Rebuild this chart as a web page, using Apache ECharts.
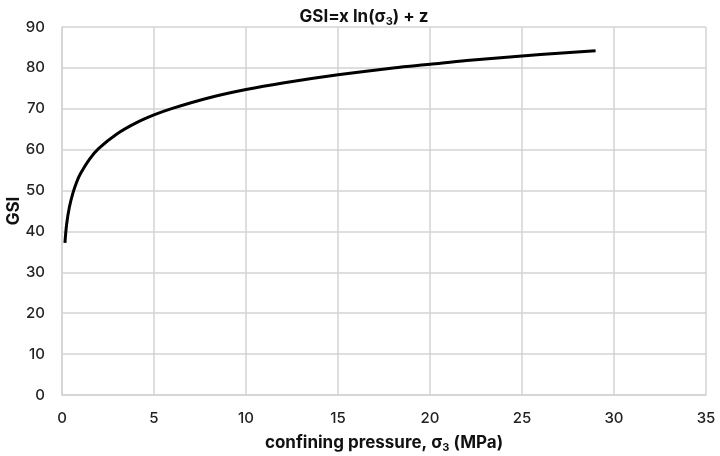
<!DOCTYPE html>
<html>
<head>
<meta charset="utf-8">
<script src="https://cdn.jsdelivr.net/npm/echarts@6/dist/echarts.min.js"></script>
<style>
  html, body { margin: 0; padding: 0; background: #fff; }
  #chart { width: 720px; height: 456px; }
</style>
</head>
<body>
<div id="chart"></div>
<script>
// values
const sigma3 = [0.16, 0.25, 0.4, 0.6, 0.8, 1, 1.5, 2, 3, 4, 5, 6, 8, 10, 12, 15, 18, 20, 22, 25, 27, 29];
const gsi = [37.2, 41.7, 45.9, 49.5, 52.1, 54.1, 57.7, 60.3, 63.9, 66.5, 68.5, 70.1, 72.7, 74.7, 76.3, 78.3, 80.0, 80.9, 81.8, 82.9, 83.6, 84.2];

const font = 'Inter, "Liberation Sans", sans-serif';
const gridColor = '#d3d3d3';

let myChart = echarts.init(document.getElementById('chart'));
const option = {
  animation: false,
  title: {
    text: '{b|GSI=x ln(σ}{s|3}{b|) + z}',
    left: 359,
    textAlign: 'center',
    top: 2,
    textStyle: {
      fontFamily: font, fontWeight: 'bold', fontSize: 17, color: '#111',
      rich: {
        b: { fontFamily: font, fontWeight: 'bold', fontSize: 17, color: '#111' },
        s: { fontFamily: font, fontWeight: 'bold', fontSize: 11, color: '#111', padding: [9, 0, 0, 0] }
      }
    }
  },
  grid: { left: 62, right: 14, top: 27, bottom: 61, outerBoundsMode: 'none' },
  xAxis: {
    type: 'value',
    min: 0, max: 35, interval: 5,
    name: '{b|confining pressure, σ}{s|3}{b| (MPa)}',
    nameLocation: 'middle',
    nameGap: 37,
    nameMoveOverlap: false,
    nameTextStyle: {
      fontFamily: font, fontWeight: 'bold', fontSize: 17, color: '#111',
      rich: {
        b: { fontFamily: font, fontWeight: 'bold', fontSize: 17, color: '#111' },
        s: { fontFamily: font, fontWeight: 'bold', fontSize: 11, color: '#111', padding: [10, 0, 0, 0] }
      }
    },
    axisLine: { show: true, lineStyle: { color: gridColor, width: 1.5 } },
    axisTick: { show: false },
    axisLabel: { fontFamily: font, fontSize: 15, fontWeight: 500, color: '#222', margin: 16 },
    splitLine: { show: true, lineStyle: { color: gridColor, width: 1.5 } }
  },
  yAxis: {
    type: 'value',
    min: 0, max: 90, interval: 10,
    name: 'GSI',
    nameLocation: 'middle',
    nameGap: 40,
    nameMoveOverlap: false,
    nameRotate: 90,
    nameTextStyle: { fontFamily: font, fontWeight: 'bold', fontSize: 17, color: '#111' },
    axisLine: { show: true, lineStyle: { color: gridColor, width: 1.5 } },
    axisTick: { show: false },
    axisLabel: { fontFamily: font, fontSize: 15, fontWeight: 500, color: '#222', margin: 17 },
    splitLine: { show: true, lineStyle: { color: gridColor, width: 1.5 } }
  },
  series: [
    {
      type: 'line',
      data: sigma3.map((x, i) => [x, gsi[i]]),
      smooth: 0.35,
      showSymbol: false,
      lineStyle: { color: '#000', width: 3 }
    }
  ]
};
myChart.setOption(option);
</script>
</body>
</html>
